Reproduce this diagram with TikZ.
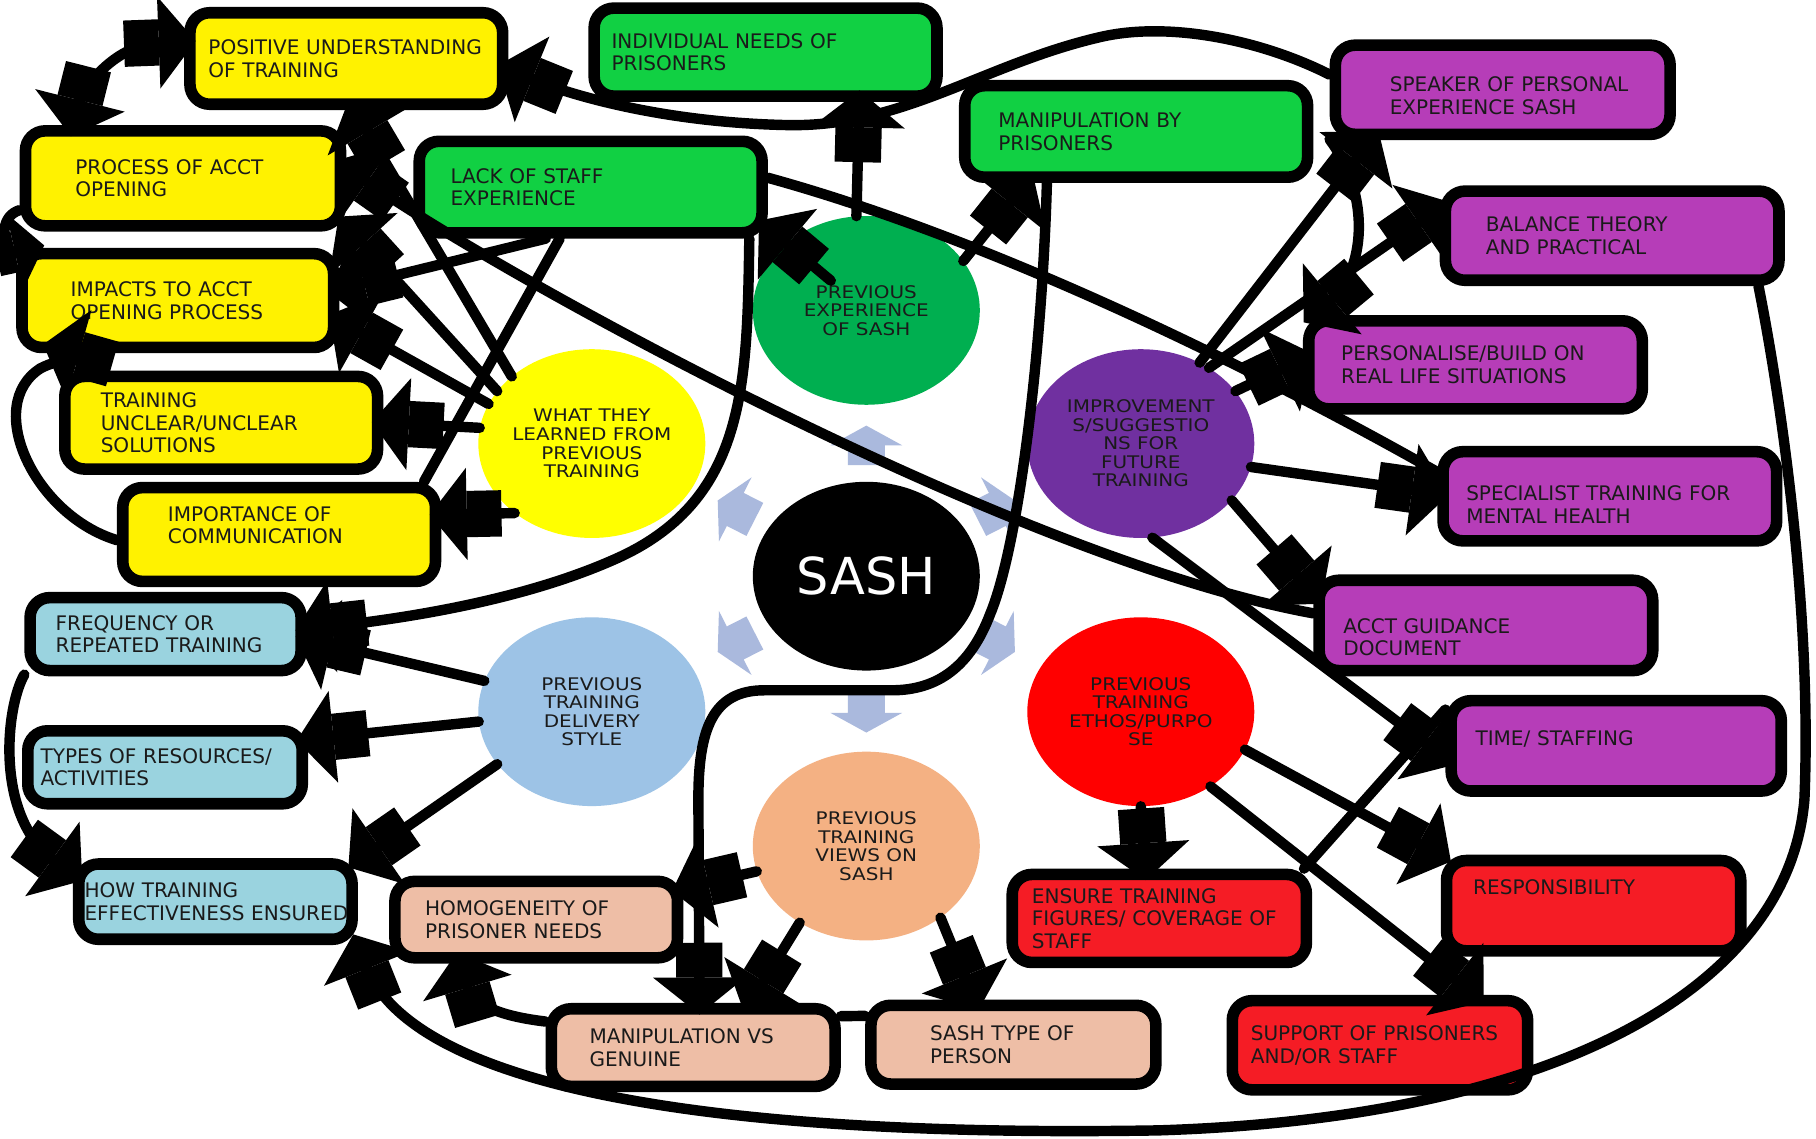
\documentclass[tikz,border=0pt]{standalone}
\usepackage{fontspec}
\setmainfont{DejaVu Sans}
\newfontfamily\circfont[FakeStretch=1.15]{DejaVu Sans}
\usetikzlibrary{arrows.meta,shapes.geometric,positioning}

\definecolor{boxyellow}{RGB}{255,242,0}
\definecolor{boxgreen}{RGB}{17,208,67}
\definecolor{boxpurple}{RGB}{182,61,184}
\definecolor{boxblue}{RGB}{154,211,223}
\definecolor{boxpeach}{RGB}{238,190,166}
\definecolor{boxred}{RGB}{245,28,37}
\definecolor{circyellow}{RGB}{255,255,0}
\definecolor{circgreen}{RGB}{0,175,80}
\definecolor{circpurple}{RGB}{112,48,160}
\definecolor{circblue}{RGB}{157,195,230}
\definecolor{circred}{RGB}{255,0,0}
\definecolor{circpeach}{RGB}{244,177,131}
\definecolor{hubarrow}{RGB}{170,185,221}
\definecolor{ink}{RGB}{26,26,26}

\tikzstyle{topic} = [rectangle, draw, line width=10pt, rounded corners=17pt, inner ysep=0pt, align=left, text=ink, font=\fontsize{17.3}{19.5}\selectfont]
\tikzstyle{theme} = [ellipse, minimum width=196pt, minimum height=163pt, inner sep=0pt, align=center, text=ink, font=\circfont\fontsize{15}{16}\selectfont]
\tikzstyle{bare} = [draw, line width=9pt, line cap=round]
\tikzstyle{line} = [bare, shorten >=-10pt, -{Rectangle[length=30pt,width=40pt]Triangle[length=32pt,width=78pt]}]
\tikzstyle{shortline} = [bare, shorten >=-10pt, -{Rectangle[length=16pt,width=36pt]Triangle[length=26pt,width=66pt]}]
\tikzstyle{twoway} = [bare, shorten >=-10pt, shorten <=-10pt, {Triangle[length=32pt,width=78pt]Rectangle[length=30pt,width=40pt]}-{Rectangle[length=30pt,width=40pt]Triangle[length=32pt,width=78pt]}]

\begin{document}
\begin{tikzpicture}[x=1pt,y=-1pt]
    \fill[white] (0,0) rectangle (1568,983);
    \useasboundingbox (0,0) rectangle (1568,983);
    % hub and its arrows
    \node [theme, fill=black, text=white, font=\fontsize{44}{48}\selectfont] (sash) at (748,497.5) {SASH};
    \foreach \ang/\rin/\rout in {90/96/130, 270/101/135, 27/108/144, 153/108/144, 207/108/144, 333/108/144}
        \fill[hubarrow, shift={(748,497.5)}, rotate=\ang] (\rin,-16) -- ({\rout-17},-16) -- ({\rout-17},-31) -- (\rout,0) -- ({\rout-17},31) -- ({\rout-17},16) -- (\rin,16) -- cycle;
    \node [theme, fill=circgreen] (prevexp) at (748,268) {PREVIOUS\\EXPERIENCE\\OF SASH};
    \node [theme, fill=circyellow] (learned) at (511,383) {WHAT THEY\\LEARNED FROM\\PREVIOUS\\TRAINING};
    \node [theme, fill=circpurple] (improve) at (985,383) {IMPROVEMENT\\S/SUGGESTIO\\NS FOR\\FUTURE\\TRAINING};
    \node [theme, fill=circblue] (delivery) at (511,614.5) {PREVIOUS\\TRAINING\\DELIVERY\\STYLE};
    \node [theme, fill=circred] (ethos) at (985,614.5) {PREVIOUS\\TRAINING\\ETHOS/PURPO\\SE};
    \node [theme, fill=circpeach] (views) at (748,730.5) {PREVIOUS\\TRAINING\\VIEWS ON\\SASH};
    % yellow topics
    \node [topic, fill=boxyellow, minimum width=270pt, minimum height=79pt, inner xsep=16pt, text width=238pt] (posund) at (299,50.5) {POSITIVE UNDERSTANDING\\OF TRAINING};
    \node [topic, fill=boxyellow, minimum width=272pt, minimum height=82pt, inner xsep=43pt, text width=186pt] (process) at (158,154) {PROCESS OF ACCT\\OPENING};
    \node [topic, fill=boxyellow, minimum width=269pt, minimum height=81pt, inner xsep=42pt, text width=185pt] (impacts) at (153.5,259.5) {IMPACTS TO ACCT\\OPENING PROCESS};
    \node [topic, fill=boxyellow, minimum width=270pt, minimum height=80pt, inner xsep=31pt, text width=208pt] (trainunc) at (191,365) {TRAINING\\UNCLEAR/UNCLEAR\\SOLUTIONS};
    \node [topic, fill=boxyellow, minimum width=270pt, minimum height=81pt, inner xsep=39pt, text width=192pt] (importance) at (241,461.5) {IMPORTANCE OF\\COMMUNICATION\\[-3.5pt]\mbox{}};
    % blue topics
    \node [topic, fill=boxblue, minimum width=234pt, minimum height=63pt, inner xsep=22pt, text width=190pt] (freq) at (143,547.5) {FREQUENCY OR\\REPEATED TRAINING};
    \node [topic, fill=boxblue, minimum width=237pt, minimum height=63pt, inner xsep=11pt, text width=215pt] (types) at (142.5,662.5) {TYPES OF RESOURCES/\\ACTIVITIES};
    \node [topic, fill=boxblue, minimum width=236pt, minimum height=65pt, inner xsep=5pt, text width=226pt] (howtr) at (186,778.5) {HOW TRAINING\\\mbox{EFFECTIVENESS ENSURED}};
    % peach topics
    \node [topic, fill=boxpeach, minimum width=244pt, minimum height=66pt, inner xsep=26pt, text width=192pt] (homog) at (463,794) {HOMOGENEITY OF\\PRISONER NEEDS};
    \node [topic, fill=boxpeach, minimum width=245pt, minimum height=67pt, inner xsep=33pt, text width=179pt] (mvg) at (598.5,904.5) {MANIPULATION VS\\GENUINE};
    \node [topic, fill=boxpeach, minimum width=246pt, minimum height=68pt, inner xsep=51pt, text width=144pt] (sashtype) at (875,902) {SASH TYPE OF\\PERSON};
    % red topics
    \node [topic, fill=boxred, minimum width=254pt, minimum height=76pt, inner xsep=17pt, text width=220pt] (ensure) at (1001,793) {ENSURE TRAINING\\\mbox{FIGURES/ COVERAGE OF}\\STAFF};
    \node [topic, fill=boxred, minimum width=254pt, minimum height=78pt, inner xsep=23pt, text width=208pt] (resp) at (1376,782) {RESPONSIBILITY\\[12pt]\mbox{}};
    \node [topic, fill=boxred, minimum width=255pt, minimum height=77pt, inner xsep=16pt, text width=223pt] (support) at (1191.5,902.5) {\mbox{SUPPORT OF PRISONERS}\\AND/OR STAFF};
    % green topics
    \node [topic, fill=boxgreen, minimum width=296pt, minimum height=76pt, inner xsep=15pt, text width=266pt] (indneeds) at (661,45) {INDIVIDUAL NEEDS OF\\PRISONERS};
    \node [topic, fill=boxgreen, minimum width=296pt, minimum height=79pt, inner xsep=27pt, text width=242pt] (lack) at (510,161.5) {LACK OF STAFF\\EXPERIENCE};
    \node [topic, fill=boxgreen, minimum width=296pt, minimum height=79pt, inner xsep=29pt, text width=238pt] (manipby) at (981,113.5) {MANIPULATION BY\\PRISONERS};
    % purple topics
    \node [topic, fill=boxpurple, minimum width=289pt, minimum height=77pt, inner xsep=47pt, text width=195pt] (speaker) at (1297.5,77.5) {\mbox{}\\[3.5pt]\mbox{SPEAKER OF PERSONAL}\\EXPERIENCE SASH};
    \node [topic, fill=boxpurple, minimum width=288pt, minimum height=77pt, inner xsep=35pt, text width=218pt] (balance) at (1392,203.5) {BALANCE THEORY\\AND PRACTICAL};
    \node [topic, fill=boxpurple, minimum width=288pt, minimum height=76pt, inner xsep=28pt, text width=232pt] (personal) at (1274,315) {PERSONALISE/BUILD ON\\REAL LIFE SITUATIONS};
    \node [topic, fill=boxpurple, minimum width=288pt, minimum height=77pt, inner xsep=20pt, text width=248pt] (specialist) at (1390,428.5) {\mbox{}\\[7.5pt]SPECIALIST TRAINING FOR\\MENTAL HEALTH};
    \node [topic, fill=boxpurple, minimum width=288pt, minimum height=78pt, inner xsep=21pt, text width=246pt] (acctguid) at (1283,540) {\mbox{}\\[13.5pt]ACCT GUIDANCE\\DOCUMENT};
    \node [topic, fill=boxpurple, minimum width=285pt, minimum height=78pt, inner xsep=21pt, text width=243pt] (timestaff) at (1395.5,644) {TIME/ STAFFING\\[-5.5pt]\mbox{}};
    % yellow links
    \path [line] (learned.140) -- (posund.-81);
    \path [line] (learned.151) -- (process.-16);
    \path [line] (learned.159) -- (impacts.-7);
    \path [line] (learned.172) -- (trainunc.east);
    \path [line] (learned.-138) -- (importance.7);
    \path [line] (lack.-131) -- (impacts.4);
    \path [bare] (lack.-121) -- (importance.20);
    \path [line] (acctguid.176) .. controls +(-258,-47) and +(132,93) .. (process.4);
    \path [twoway] (process.154) .. controls (72,75) and (100,38) .. (posund.174);
    \path [shortline] (process.-169) .. controls (2,186) and (0,205) .. (10,218) -- (impacts.160);
    \path [line, shorten >=-28pt] (importance.-178) .. controls (30,445) and (-15,350) .. (35,318) .. controls (70,300) and (110,318) .. (impacts.-153);
    % green links
    \path [line] (prevexp.96) -- (indneeds.-28);
    \path [line, shorten <=40pt] (prevexp.center) -- (lack.-13);
    \path [line] (prevexp.27) -- (manipby.-155);
    \path [line] (manipby.-150) .. controls (900,300) and (880,470) .. (855,530) .. controls (838,575) and (810,596) .. (770,596) -- (660,596) .. controls (615,596) and (603,630) .. (603,690) -- (mvg.82);
    \path [bare] (lack.3) .. controls +(200,55) and +(-150,-85) .. (specialist.172);
    \path [line] (lack.-18) .. controls (645,330) and (645,430) .. (535,481) .. controls (450,520) and (340,535) .. (freq.2);
    % purple links
    \path [line] (improve.54) -- (speaker.-159);
    \path [line] (improve.48) -- (balance.171);
    \path [line] (improve.29) -- (personal.178);
    \path [line] (improve.-12) -- (specialist.179);
    \path [line] (improve.-32) -- (acctguid.170);
    \path [line] (improve.-83) -- (timestaff.-176);
    \path [line] (speaker.-164) .. controls (1185,170) and (1178,235) .. (personal.163);
    \path [line] (speaker.175) .. controls (1090,35) and (1010,18) .. (950,32) .. controls (850,55) and (780,110) .. (680,108) .. controls (580,106) and (500,85) .. (posund.-4);
    \path [line] (balance.-19) .. controls (1535,330) and (1565,520) .. (1558,690) .. controls (1545,850) and (1350,965) .. (1000,976) .. controls (640,982) and (360,945) .. (howtr.-17);
    % red links
    \path [line] (ethos.-90) -- (ensure.106);
    \path [line] (ethos.-20) -- (resp.162);
    \path [line] (ethos.-47) -- (support.28);
    \path [bare] (ensure.19) -- (timestaff.168);
    % blue links
    \path [line] (delivery.164) -- (freq.-2);
    \path [line] (delivery.-175) -- (types.11);
    \path [line] (delivery.-151) -- (howtr.16);
    \path [line] (freq.-164) .. controls (5,610) and (-5,705) .. (howtr.169);
    % peach links
    \path [line] (views.-131) -- (mvg.38);
    \path [line] (views.-167) -- (homog.12);
    \path [line] (views.-44) -- (sashtype.131);
    \path [bare] (mvg.12) -- (sashtype.169);
    \path [line] (mvg.170) .. controls +(-25,-3) and +(12,40) .. (homog.-150);
\end{tikzpicture}
\end{document}
